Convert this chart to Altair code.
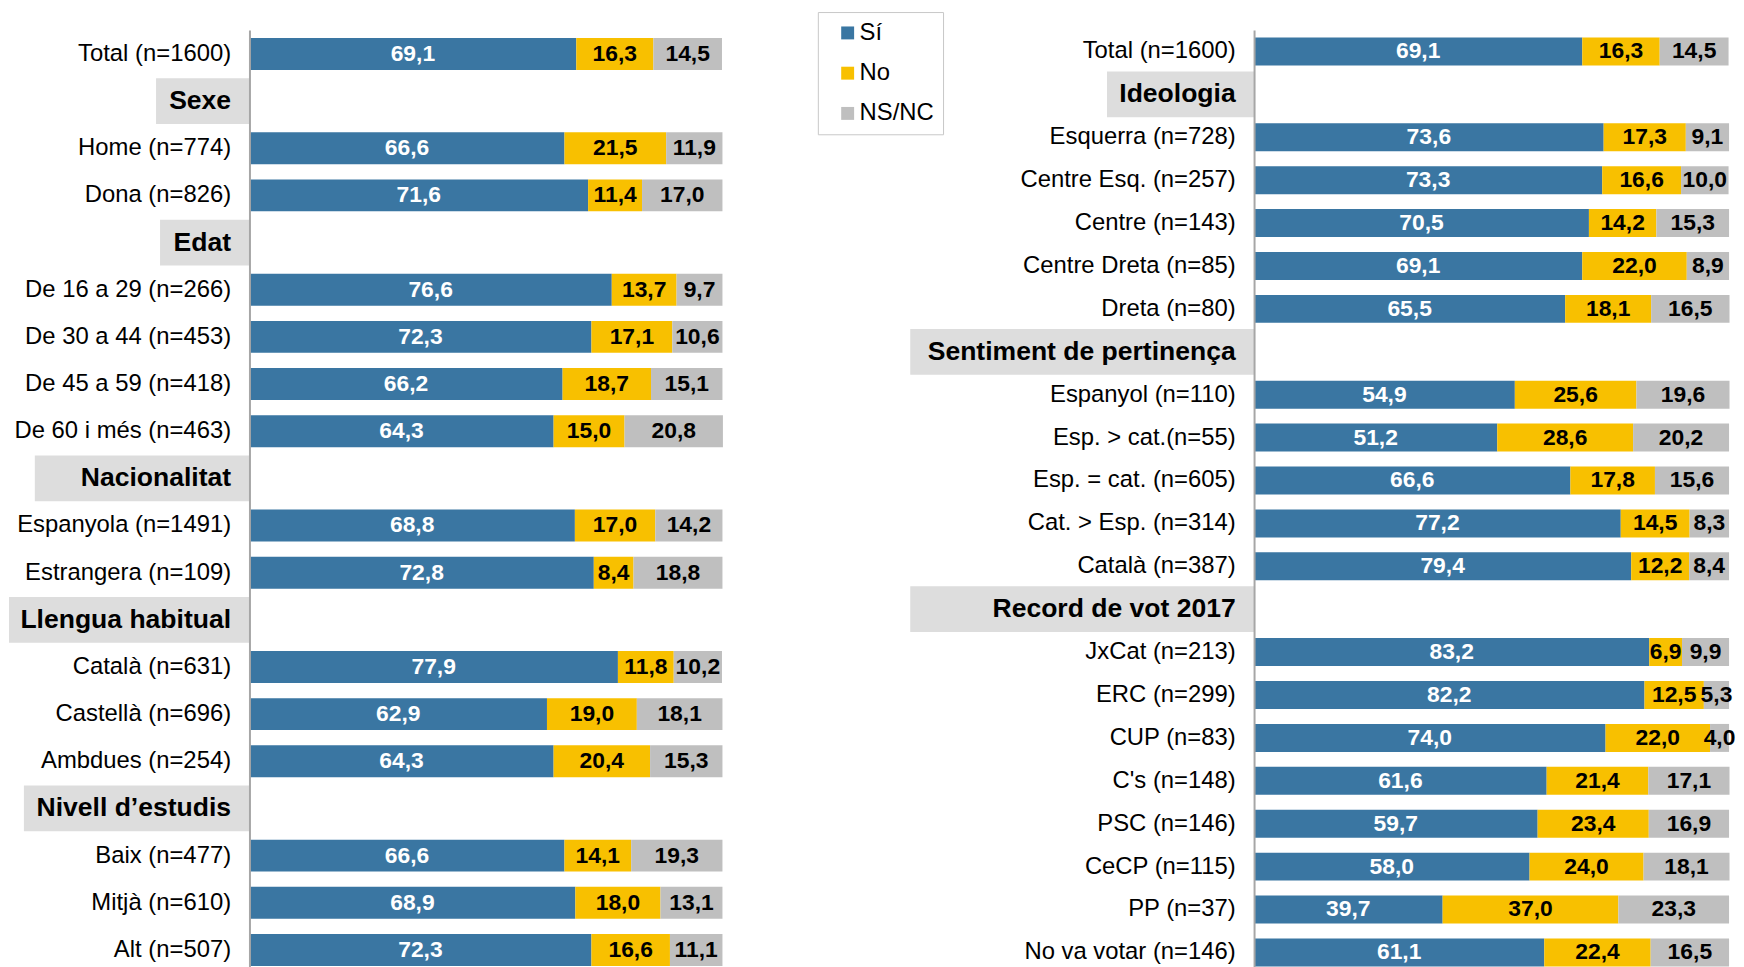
import json
import altair as alt
import pandas as pd

FONT = "Liberation Sans"

responses = ["Sí", "No", "NS/NC"]
resp_colors = ["#3A76A2", "#F8C000", "#BFBFBF"]

# ---------------- left panel ----------------
left_rows = [
    "Total (n=1600)", "Sexe", "Home (n=774)", "Dona (n=826)", "Edat",
    "De 16 a 29 (n=266)", "De 30 a 44 (n=453)", "De 45 a 59 (n=418)", "De 60 i més (n=463)",
    "Nacionalitat", "Espanyola (n=1491)", "Estrangera (n=109)",
    "Llengua habitual", "Català (n=631)", "Castellà (n=696)", "Ambdues (n=254)",
    "Nivell d’estudis", "Baix (n=477)", "Mitjà (n=610)", "Alt (n=507)",
]
left_headers = ["Sexe", "Edat", "Nacionalitat", "Llengua habitual", "Nivell d’estudis"]
left_si = [69.1, None, 66.6, 71.6, None, 76.6, 72.3, 66.2, 64.3, None, 68.8, 72.8,
           None, 77.9, 62.9, 64.3, None, 66.6, 68.9, 72.3]
left_no = [16.3, None, 21.5, 11.4, None, 13.7, 17.1, 18.7, 15.0, None, 17.0, 8.4,
           None, 11.8, 19.0, 20.4, None, 14.1, 18.0, 16.6]
left_ns = [14.5, None, 11.9, 17.0, None, 9.7, 10.6, 15.1, 20.8, None, 14.2, 18.8,
           None, 10.2, 18.1, 15.3, None, 19.3, 13.1, 11.1]

# ---------------- right panel ----------------
right_rows = [
    "Total (n=1600)", "Ideologia", "Esquerra (n=728)", "Centre Esq. (n=257)", "Centre (n=143)",
    "Centre Dreta (n=85)", "Dreta (n=80)", "Sentiment de pertinença", "Espanyol (n=110)",
    "Esp. > cat.(n=55)", "Esp. = cat. (n=605)", "Cat. > Esp. (n=314)", "Català (n=387)",
    "Record de vot 2017", "JxCat (n=213)", "ERC (n=299)", "CUP (n=83)", "C's (n=148)",
    "PSC (n=146)", "CeCP (n=115)", "PP (n=37)", "No va votar (n=146)",
]
right_headers = ["Ideologia", "Sentiment de pertinença", "Record de vot 2017"]
right_si = [69.1, None, 73.6, 73.3, 70.5, 69.1, 65.5, None, 54.9, 51.2, 66.6, 77.2, 79.4,
            None, 83.2, 82.2, 74.0, 61.6, 59.7, 58.0, 39.7, 61.1]
right_no = [16.3, None, 17.3, 16.6, 14.2, 22.0, 18.1, None, 25.6, 28.6, 17.8, 14.5, 12.2,
            None, 6.9, 12.5, 22.0, 21.4, 23.4, 24.0, 37.0, 22.4]
right_ns = [14.5, None, 9.1, 10.0, 15.3, 8.9, 16.5, None, 19.6, 20.2, 15.6, 8.3, 8.4,
            None, 9.9, 5.3, 4.0, 17.1, 16.9, 18.1, 23.3, 16.5]

# style: width in px of the grey header boxes (left of the axis)
header_box_width = {
    "Sexe": 94, "Edat": 90, "Nacionalitat": 216, "Llengua habitual": 242,
    "Nivell d’estudis": 227, "Ideologia": 148, "Sentiment de pertinença": 346,
    "Record de vot 2017": 346,
}


def panel(rows, headers, si, no, ns, pad_inner, pad_outer, legend, width):
    recs = []
    for i, r in enumerate(rows):
        if r in headers:
            continue
        for k, vals in enumerate([si, no, ns]):
            recs.append({"row": r, "resp": responses[k], "value": vals[i], "ord": k})
    df = pd.DataFrame(recs)

    test = "indexof(%s, datum.value) >= 0" % json.dumps(headers, ensure_ascii=False)
    yscale = alt.Scale(domain=rows, paddingInner=pad_inner, paddingOuter=pad_outer)
    yaxis = alt.Axis(
        title=None, ticks=False, tickSize=0, labelPadding=19, domainColor="#A6A6A6",
        domainWidth=2, labelFont=FONT, labelColor="#000000", labelLimit=0, zindex=1,
        labelFontSize={"condition": {"test": test, "value": 26.7}, "value": 24},
        labelFontWeight={"condition": {"test": test, "value": "bold"}, "value": "normal"},
    )

    layers = []
    box_df = pd.DataFrame({"row": headers})
    for h in headers:
        layers.append(
            alt.Chart(box_df).transform_filter(alt.datum.row == h)
            .mark_bar(size=46, color="#DDDDDD")
            .encode(y=alt.Y("row:N", scale=yscale, axis=yaxis),
                    x=alt.value(-header_box_width[h]), x2=alt.value(0))
        )

    base = alt.Chart(df)
    bars = base.mark_bar().encode(
        y=alt.Y("row:N", scale=yscale, axis=yaxis),
        x=alt.X("value:Q", stack="zero", axis=None,
                scale=alt.Scale(domain=[0, 100], nice=False, zero=True)),
        color=alt.Color("resp:N", scale=alt.Scale(domain=responses, range=resp_colors),
                        legend=legend),
        order=alt.Order("ord:Q"),
    )
    text = (
        base.transform_stack(stack="value", groupby=["row"], as_=["x0", "x1"],
                             sort=[alt.SortField("ord", order="ascending")])
        .transform_calculate(mid="(datum.x0 + datum.x1) / 2",
                             lab="replace(format(datum.value, '.1f'), '.', ',')")
        .mark_text(font=FONT, fontSize=23, fontWeight="bold", baseline="middle", align="center")
        .encode(
            y=alt.Y("row:N", scale=yscale, axis=yaxis),
            x=alt.X("mid:Q", axis=None),
            text="lab:N",
            color=alt.condition("datum.resp == 'Sí'", alt.value("#FFFFFF"), alt.value("#000000")),
        )
    )
    layers += [bars, text]
    return alt.layer(*layers).properties(width=width, height=950)


legend = alt.Legend(
    title=None, orient="none", legendX=-439, legendY=-18, symbolType="square",
    symbolSize=169, symbolStrokeWidth=0, labelFont=FONT, labelFontSize=24,
    labelColor="#000000", labelOffset=0, symbolOffset=9, rowPadding=16.5, padding=9,
    strokeColor="#C8C8C8", fillColor="#FFFFFF",
)

left = panel(left_rows, left_headers, left_si, left_no, left_ns, 0.323, 0.17, None, 476)
right = panel(right_rows, right_headers, right_si, right_no, right_ns, 0.348, 0.175, legend, 478)

chart = (
    alt.hconcat(left, right, spacing=94)
    .resolve_legend(color="independent")
    .properties(padding={"left": 1, "top": 0, "right": 0, "bottom": 0})
    .configure_view(stroke=None)
)

chart.save("out.html", embed_options={"renderer": "svg", "actions": False})
